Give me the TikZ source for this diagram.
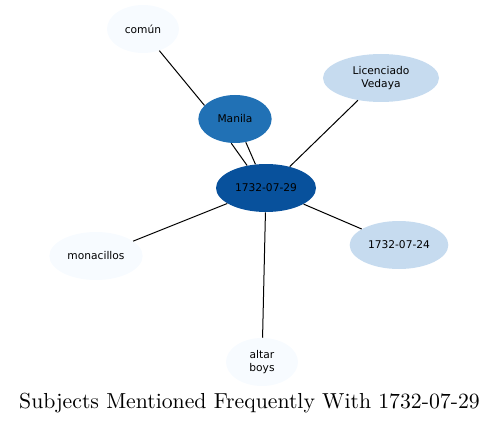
\documentclass[tikz,border=0pt]{standalone}
\usepackage{fontspec}
\newfontfamily\nodefont{DejaVu Sans}
\newfontfamily\titlefont{lmroman10-regular.otf}
\usetikzlibrary{shapes.geometric}
\definecolor{cvlight}{HTML}{F7FBFF}
\definecolor{clight}{HTML}{C6DBEF}
\definecolor{cmid}{HTML}{2171B5}
\definecolor{cdark}{HTML}{08519C}
\begin{document}
\begin{tikzpicture}[x=0.75pt,y=-0.75pt,
  ent/.style={ellipse, inner sep=0pt, font=\nodefont\fontsize{8}{9.5}\selectfont, align=center},
  link/.style={draw=black, line width=0.75pt}]
\useasboundingbox (0,0) rectangle (499,424);
\node[ent, fill=cvlight, minimum width=54pt, minimum height=36pt] (comun) at (143,29) {común};
\node[ent, fill=clight, minimum width=87pt, minimum height=36pt] (lic) at (381,78) {Licenciado\\Vedaya};
\node[ent, fill=cmid, minimum width=55pt, minimum height=36pt] (manila) at (235,119) {Manila};
\node[ent, fill=cdark, minimum width=75pt, minimum height=36pt] (main) at (266,188) {1732-07-29};
\node[ent, fill=cvlight, minimum width=70pt, minimum height=36pt] (mona) at (96,256) {monacillos};
\node[ent, fill=clight, minimum width=74pt, minimum height=36pt] (d24) at (399,245) {1732-07-24};
\node[ent, fill=cvlight, minimum width=54pt, minimum height=36pt] (altar) at (262,362) {altar\\boys};
\draw[link] (comun.-53) -- (manila.156);
\draw[link] (lic.-136) -- (main.42);
\draw[link] (manila.-99) -- (main.130);
\draw[link] (manila.-65) -- (main.114);
\draw[link] (mona) -- (main);
\draw[link] (d24) -- (main);
\draw[link] (altar) -- (main);
\node[anchor=base, font=\titlefont\fontsize{16.3}{19}\selectfont, inner sep=0pt] (title) at (249.5,408) {Subjects Mentioned Frequently With 1732-07-29};
\end{tikzpicture}
\end{document}
